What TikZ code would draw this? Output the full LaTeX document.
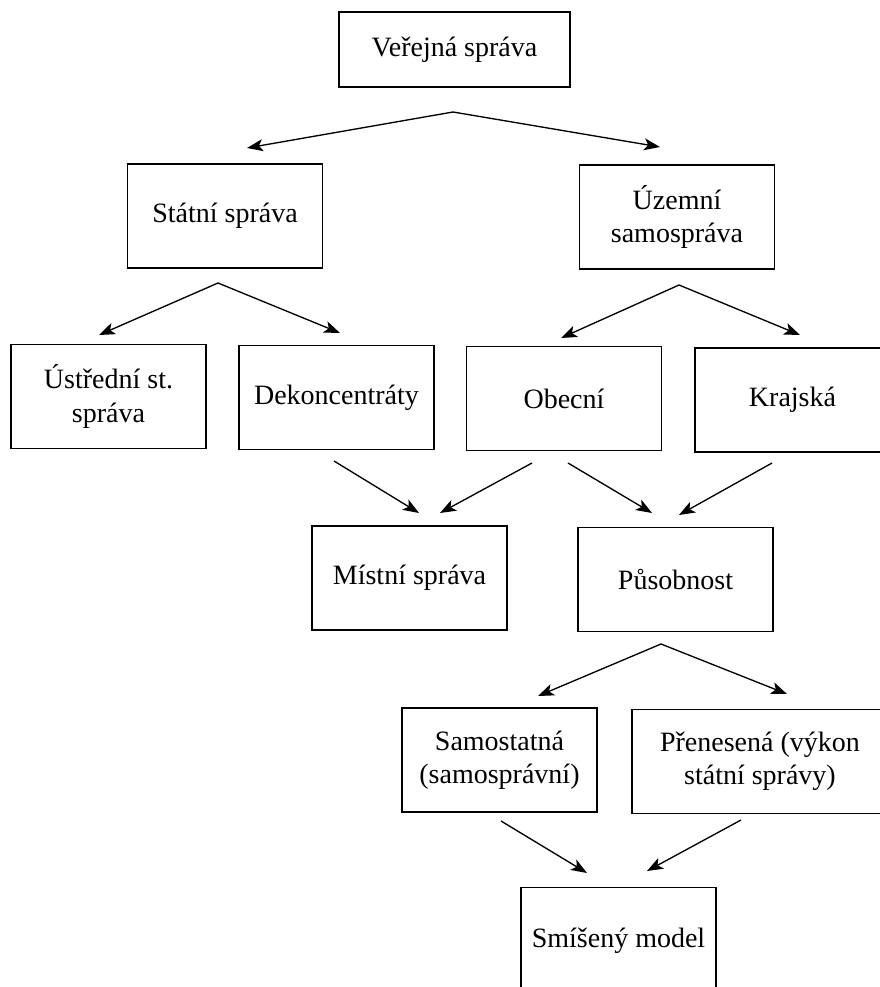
\documentclass[tikz,border=0pt]{standalone}
\usepackage{fontspec}
\setmainfont{Liberation Serif}
\usetikzlibrary{arrows.meta}
\begin{document}
\begin{tikzpicture}[x=0.75pt,y=-0.75pt,
  box/.style={draw=black,line width=1.2pt,align=center,inner sep=0pt,
    minimum width=146.5pt,minimum height=78pt,
    font=\fontsize{21}{25}\selectfont},
  arr/.style={line width=1pt,-{Stealth[length=12pt,width=9pt,inset=3pt]}}]
\useasboundingbox (0,0) rectangle (880,987);
\fill[white] (0,0) rectangle (880,987);
\clip (0,0) rectangle (880,987);
% boxes
\node[box,minimum width=173pt,minimum height=56pt] (ver) at (454.5,49.5) {Veřejná správa};
\node[box] (stat) at (225,216) {Státní správa};
\node[box] (uzem) at (677,217) {Územní\\samospráva};
\node[box] (ustr) at (108.5,396.5) {Ústřední st.\\správa};
\node[box] (dek) at (336.5,397.5) {Dekoncentráty};
\node[box] (obec) at (564,398.5) {Obecní};
\node[box] (kraj) at (792.5,400) {Krajská};
\node[box] (mist) at (409.5,578) {Místní správa};
\node[box] (pus) at (675.5,579.5) {Působnost};
\node[box] (sam) at (499.5,760) {Samostatná\\(samosprávní)};
\node[box,minimum width=192pt] (pren) at (760,761.5) {Přenesená (výkon\\státní správy)};
\node[box,minimum height=80pt] (smis) at (618.5,941) {Smíšený model};
% connector points
\coordinate (a1) at (453,112);
\coordinate (t1l) at (247,148);
\coordinate (t1r) at (660,147);
\coordinate (a2) at (218,283);
\coordinate (t2l) at (99,335);
\coordinate (t2r) at (340,333);
\coordinate (a3) at (679,285);
\coordinate (t3l) at (561,338);
\coordinate (t3r) at (800,335);
\coordinate (s4) at (334,461);
\coordinate (t4) at (419,513);
\coordinate (s5) at (532,463);
\coordinate (t5) at (440,513);
\coordinate (s6) at (568,463);
\coordinate (t6) at (652,513);
\coordinate (s7) at (772,463);
\coordinate (t7) at (679,515);
\coordinate (a8) at (661,644);
\coordinate (t8l) at (538,696);
\coordinate (t8r) at (787,694);
\coordinate (s9) at (501,821);
\coordinate (t9) at (587,873);
\coordinate (s10) at (741,820);
\coordinate (t10) at (647,871);
% arrows
\draw[arr] (a1) -- (t1l);
\draw[arr] (a1) -- (t1r);
\draw[arr] (a2) -- (t2l);
\draw[arr] (a2) -- (t2r);
\draw[arr] (a3) -- (t3l);
\draw[arr] (a3) -- (t3r);
\draw[arr] (s4) -- (t4);
\draw[arr] (s5) -- (t5);
\draw[arr] (s6) -- (t6);
\draw[arr] (s7) -- (t7);
\draw[arr] (a8) -- (t8l);
\draw[arr] (a8) -- (t8r);
\draw[arr] (s9) -- (t9);
\draw[arr] (s10) -- (t10);
\end{tikzpicture}
\end{document}
